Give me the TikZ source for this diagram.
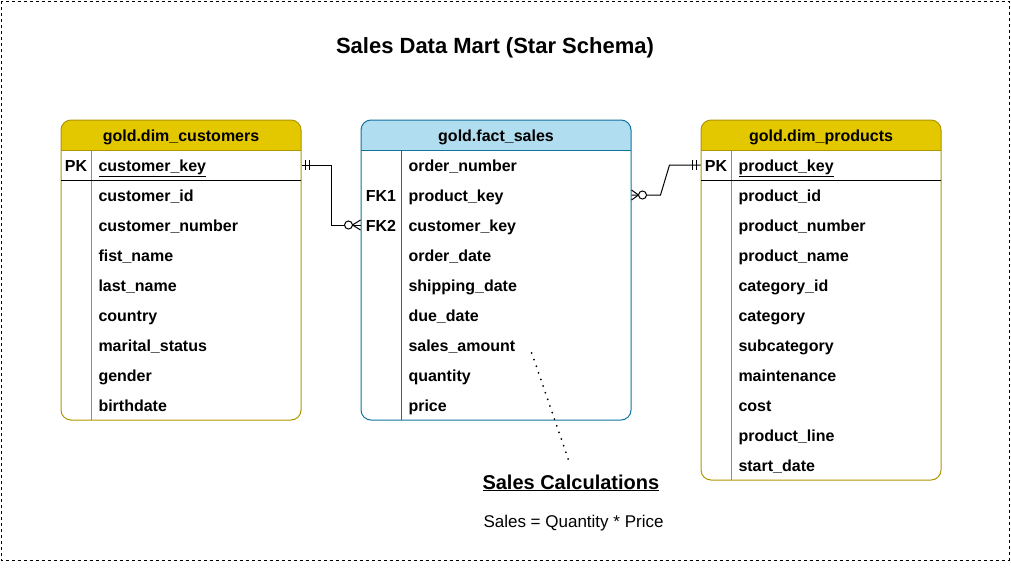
\documentclass[tikz,border=0pt]{standalone}
\usepackage{fontspec}
\setmainfont{Liberation Sans}
\usepackage{xcolor}
\usepackage{tikz}
\usetikzlibrary{calc}

\definecolor{goldfill}{HTML}{E3C800}
\definecolor{goldline}{HTML}{B09500}
\definecolor{bluefill}{HTML}{B1DDF0}
\definecolor{blueline}{HTML}{10739E}

\tikzset{
  field/.style={anchor=west,inner sep=0pt,text height=12pt,text depth=0pt,font=\fontsize{16}{19}\selectfont\bfseries},
  keyfield/.style={field,anchor=center},
  tabhead/.style={inner sep=0pt,text height=12.5pt,text depth=0pt,minimum height=30pt,font=\fontsize{16}{19}\selectfont\bfseries},
  dotline/.style={line width=2pt,line cap=round,dash pattern=on 0pt off 7pt},
}

\begin{document}
\begin{tikzpicture}[x=1pt,y=-1pt,line width=1pt]
\useasboundingbox (0,0) rectangle (1011,584);

% Frame and title
\draw[dash pattern=on 3pt off 3pt] (1,1) rectangle (1009,560);
\node[anchor=base,inner sep=0pt,font=\fontsize{22}{26}\selectfont\bfseries] (title) at (495,53) {Sales Data Mart (Star Schema)};

% Table gold.dim_customers
\fill[goldfill] (61,150) [rounded corners=10] -- (61,120) -- (301,120) [sharp corners] -- (301,150) -- cycle;
\draw[goldline,rounded corners=10] (61,120) rectangle (301,420);
\draw[goldline] (61,150) -- (301,150) (91,150) -- (91,420);
\draw[black] (61,180) -- (301,180);
\node[tabhead,minimum width=240pt] (cust) at (181,135) {gold.dim\_customers};
\node[keyfield] (cpk) at (76,165) {PK};
\node[field] (ckey) at (98,165) {\underline{customer\_key}};
\foreach \f [count=\i] in {customer\_id,customer\_number,fist\_name,last\_name,country,marital\_status,gender,birthdate}
  \node[field] (cf\i) at (98,165+30*\i) {\f};

% Table gold.fact_sales
\fill[bluefill] (361,150) [rounded corners=10] -- (361,120) -- (631,120) [sharp corners] -- (631,150) -- cycle;
\draw[blueline,rounded corners=10] (361,120) rectangle (631,420);
\draw[blueline] (361,150) -- (631,150) (401,150) -- (401,420);
\node[tabhead,minimum width=270pt] (fact) at (496,135) {gold.fact\_sales};
\node[keyfield] (fk1) at (381,195) {FK1};
\node[keyfield] (fk2) at (381,225) {FK2};
\foreach \f [count=\i] in {order\_number,product\_key,customer\_key,order\_date,shipping\_date,due\_date,sales\_amount,quantity,price}
  \node[field] (ff\i) at (408,135+30*\i) {\f};

% Table gold.dim_products
\fill[goldfill] (701,150) [rounded corners=10] -- (701,120) -- (941,120) [sharp corners] -- (941,150) -- cycle;
\draw[goldline,rounded corners=10] (701,120) rectangle (941,480);
\draw[goldline] (701,150) -- (941,150) (731,150) -- (731,480);
\draw[black] (701,180) -- (941,180);
\node[tabhead,minimum width=240pt] (prod) at (821,135) {gold.dim\_products};
\node[keyfield] (ppk) at (716,165) {PK};
\node[field] (pkey) at (738,165) {\underline{product\_key}};
\foreach \f [count=\i] in {product\_id,product\_number,product\_name,category\_id,category,subcategory,maintenance,cost,product\_line,start\_date}
  \node[field] (pf\i) at (738,165+30*\i) {\f};

% Relation customers -> fact_sales
\coordinate (c1) at (cust.east |- ckey);
\coordinate (c2) at (fact.west |- fk2);
\draw (c1) -- ++(30,0) |- (c2);
\draw ([xshift=4pt,yshift=5pt]c1) -- ([xshift=4pt,yshift=-5pt]c1)
      ([xshift=8pt,yshift=5pt]c1) -- ([xshift=8pt,yshift=-5pt]c1);
\draw[fill=white] ([xshift=-12pt]c2) circle (4);
\draw ([xshift=-8pt]c2) -- ([yshift=5pt]c2) ([xshift=-8pt]c2) -- ([yshift=-5pt]c2);

% Relation fact_sales -> products
\coordinate (c3) at (fact.east |- fk1);
\coordinate (c4) at (prod.west |- pkey);
\draw (c3) -- ++(29,0) -- ([xshift=-31pt]c4) -- (c4);
\draw ([xshift=7pt]c3) -- ([yshift=5pt]c3) ([xshift=7pt]c3) -- ([yshift=-5pt]c3);
\draw[fill=white] ([xshift=11pt]c3) circle (4);
\draw ([xshift=-4pt,yshift=5pt]c4) -- ([xshift=-4pt,yshift=-5pt]c4)
      ([xshift=-8pt,yshift=5pt]c4) -- ([xshift=-8pt,yshift=-5pt]c4);

% Note on sales_amount
\node[anchor=base west,inner sep=0pt,font=\fontsize{20}{24}\selectfont\bfseries] (calc) at (482,489) {\underline{Sales Calculations}};
\node[anchor=base west,inner sep=0pt,font=\fontsize{17}{20}\selectfont] (formula) at (483,527) {Sales = Quantity * Price};
\draw[dotline] ([xshift=16pt,yshift=-8pt]ff7.east) -- ([xshift=-2pt,yshift=13pt]calc.north);
\end{tikzpicture}
\end{document}
